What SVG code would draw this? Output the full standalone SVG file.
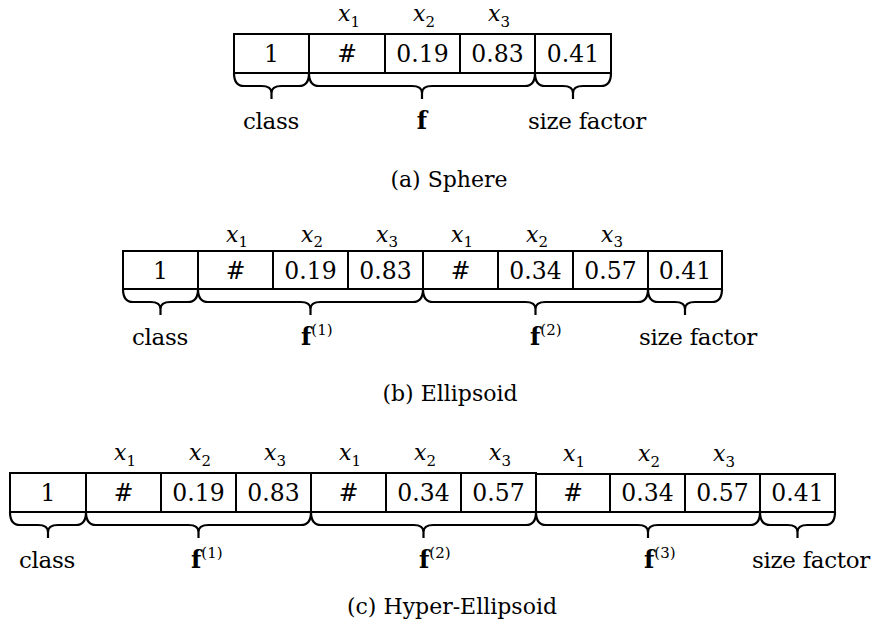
<svg xmlns="http://www.w3.org/2000/svg" width="874" height="626" viewBox="0 0 874 626">
<style>
  text { font-family: 'DejaVu Serif', 'Liberation Serif', serif; fill: #000; }
  .cell { fill: #fff; stroke: #000; stroke-width: 2; }
  .num { font-size: 23.5px; text-anchor: middle; }
  .xl { font-size: 22px; font-style: italic; text-anchor: middle; }
  .sub { font-size: 15px; font-style: normal; }
  .lab { font-size: 23px; text-anchor: middle; letter-spacing: -0.3px; }
  .fl { font-size: 24px; font-weight: bold; }
  .sup { font-size: 15px; font-weight: normal; }
  .cap { font-size: 22px; text-anchor: middle; }
  .brace { fill: none; stroke: #000; stroke-width: 2.2; stroke-linejoin: round; }
</style>
<rect width="874" height="626" fill="#fff"/>

<g id="panel-a">
  <g id="a-cells">
    <rect class="cell" x="234" y="34" width="75" height="39"/>
    <rect class="cell" x="309" y="34" width="76" height="39"/>
    <rect class="cell" x="385" y="34" width="75" height="39"/>
    <rect class="cell" x="460" y="34" width="75" height="39"/>
    <rect class="cell" x="535" y="34" width="76" height="39"/>
    <text class="num" x="271.5" y="62">1</text>
    <text class="num" x="347" y="62">#</text>
    <text class="num" x="422.5" y="62">0.19</text>
    <text class="num" x="497.5" y="62">0.83</text>
    <text class="num" x="573" y="62">0.41</text>
  </g>
  <g id="a-xlabels">
    <text class="xl" x="349" y="21">x<tspan class="sub" dy="6">1</tspan></text>
    <text class="xl" x="424" y="21">x<tspan class="sub" dy="6">2</tspan></text>
    <text class="xl" x="499" y="21">x<tspan class="sub" dy="6">3</tspan></text>
  </g>
  <g id="a-braces">
    <path class="brace" d="M234 73 Q234 86 244 86 H261.5 Q271.5 86 271.5 93 V99 M271.5 93 Q271.5 86 281.5 86 H299 Q309 86 309 73"/>
    <path class="brace" d="M309 73 Q309 86 319 86 H412 Q422 86 422 93 V99 M422 93 Q422 86 432 86 H525 Q535 86 535 73"/>
    <path class="brace" d="M535 73 Q535 86 545 86 H563 Q573 86 573 93 V99 M573 93 Q573 86 583 86 H601 Q611 86 611 73"/>
  </g>
  <text class="lab" x="271" y="129">class</text>
  <text class="fl" x="422" y="129" text-anchor="middle">f</text>
  <text class="lab" x="587" y="129">size factor</text>
  <text class="cap" x="449" y="187">(a) Sphere</text>
</g>

<g id="panel-b">
  <g id="b-cells">
    <rect class="cell" x="123" y="251" width="75" height="38"/>
    <rect class="cell" x="198" y="251" width="75" height="38"/>
    <rect class="cell" x="273" y="251" width="75" height="38"/>
    <rect class="cell" x="348" y="251" width="75" height="38"/>
    <rect class="cell" x="423" y="251" width="75" height="38"/>
    <rect class="cell" x="498" y="251" width="75" height="38"/>
    <rect class="cell" x="573" y="251" width="75" height="38"/>
    <rect class="cell" x="648" y="251" width="74" height="38"/>
    <text class="num" x="160.5" y="279">1</text>
    <text class="num" x="235.5" y="279">#</text>
    <text class="num" x="310.5" y="279">0.19</text>
    <text class="num" x="385.5" y="279">0.83</text>
    <text class="num" x="460.5" y="279">#</text>
    <text class="num" x="535.5" y="279">0.34</text>
    <text class="num" x="610.5" y="279">0.57</text>
    <text class="num" x="685" y="279">0.41</text>
  </g>
  <g id="b-xlabels">
    <text class="xl" x="237" y="242">x<tspan class="sub" dy="5">1</tspan></text>
    <text class="xl" x="312" y="242">x<tspan class="sub" dy="5">2</tspan></text>
    <text class="xl" x="387" y="242">x<tspan class="sub" dy="5">3</tspan></text>
    <text class="xl" x="462" y="242">x<tspan class="sub" dy="5">1</tspan></text>
    <text class="xl" x="537" y="242">x<tspan class="sub" dy="5">2</tspan></text>
    <text class="xl" x="612" y="242">x<tspan class="sub" dy="5">3</tspan></text>
  </g>
  <g id="b-braces">
    <path class="brace" d="M123 289 Q123 302 133 302 H150.5 Q160.5 302 160.5 309 V315 M160.5 309 Q160.5 302 170.5 302 H188 Q198 302 198 289"/>
    <path class="brace" d="M198 289 Q198 302 208 302 H300.5 Q310.5 302 310.5 309 V315 M310.5 309 Q310.5 302 320.5 302 H413 Q423 302 423 289"/>
    <path class="brace" d="M423 289 Q423 302 433 302 H525.5 Q535.5 302 535.5 309 V315 M535.5 309 Q535.5 302 545.5 302 H638 Q648 302 648 289"/>
    <path class="brace" d="M648 289 Q648 302 658 302 H675 Q685 302 685 309 V315 M685 309 Q685 302 695 302 H712 Q722 302 722 289"/>
  </g>
  <text class="lab" x="160" y="345">class</text>
  <text class="fl" x="301" y="345">f<tspan class="sup" dy="-10">(1)</tspan></text>
  <text class="fl" x="530" y="345">f<tspan class="sup" dy="-10">(2)</tspan></text>
  <text class="lab" x="698" y="345">size factor</text>
  <text class="cap" x="450" y="401">(b) Ellipsoid</text>
</g>

<g id="panel-c">
  <g id="c-cells">
    <rect class="cell" x="10" y="473" width="76" height="39"/>
    <rect class="cell" x="86" y="473" width="75" height="39"/>
    <rect class="cell" x="161" y="473" width="75" height="39"/>
    <rect class="cell" x="236" y="473" width="75" height="39"/>
    <rect class="cell" x="311" y="473" width="75" height="39"/>
    <rect class="cell" x="386" y="473" width="75" height="39"/>
    <rect class="cell" x="461" y="473" width="75" height="39"/>
    <rect class="cell" x="536" y="474" width="74" height="38"/>
    <rect class="cell" x="610" y="474" width="75" height="38"/>
    <rect class="cell" x="685" y="474" width="75" height="38"/>
    <rect class="cell" x="760" y="474" width="75" height="38"/>
    <text class="num" x="48" y="501">1</text>
    <text class="num" x="123.5" y="501">#</text>
    <text class="num" x="198.5" y="501">0.19</text>
    <text class="num" x="273.5" y="501">0.83</text>
    <text class="num" x="348.5" y="501">#</text>
    <text class="num" x="423.5" y="501">0.34</text>
    <text class="num" x="498.5" y="501">0.57</text>
    <text class="num" x="573" y="501">#</text>
    <text class="num" x="647.5" y="501">0.34</text>
    <text class="num" x="722.5" y="501">0.57</text>
    <text class="num" x="797.5" y="501">0.41</text>
  </g>
  <g id="c-xlabels">
    <text class="xl" x="125" y="460">x<tspan class="sub" dy="6">1</tspan></text>
    <text class="xl" x="200" y="460">x<tspan class="sub" dy="6">2</tspan></text>
    <text class="xl" x="275" y="460">x<tspan class="sub" dy="6">3</tspan></text>
    <text class="xl" x="350" y="460">x<tspan class="sub" dy="6">1</tspan></text>
    <text class="xl" x="425" y="460">x<tspan class="sub" dy="6">2</tspan></text>
    <text class="xl" x="500" y="460">x<tspan class="sub" dy="6">3</tspan></text>
    <text class="xl" x="574" y="461">x<tspan class="sub" dy="6">1</tspan></text>
    <text class="xl" x="649" y="461">x<tspan class="sub" dy="6">2</tspan></text>
    <text class="xl" x="724" y="461">x<tspan class="sub" dy="6">3</tspan></text>
  </g>
  <g id="c-braces">
    <path class="brace" d="M10 512 Q10 525 20 525 H38 Q48 525 48 532 V538 M48 532 Q48 525 58 525 H76 Q86 525 86 512"/>
    <path class="brace" d="M86 512 Q86 525 96 525 H188.5 Q198.5 525 198.5 532 V538 M198.5 532 Q198.5 525 208.5 525 H301 Q311 525 311 512"/>
    <path class="brace" d="M311 512 Q311 525 321 525 H413.5 Q423.5 525 423.5 532 V538 M423.5 532 Q423.5 525 433.5 525 H526 Q536 525 536 512"/>
    <path class="brace" d="M536 512 Q536 525 546 525 H638 Q648 525 648 532 V538 M648 532 Q648 525 658 525 H750 Q760 525 760 512"/>
    <path class="brace" d="M760 512 Q760 525 770 525 H787.5 Q797.5 525 797.5 532 V538 M797.5 532 Q797.5 525 807.5 525 H825 Q835 525 835 512"/>
  </g>
  <text class="lab" x="47" y="568">class</text>
  <text class="fl" x="191" y="568">f<tspan class="sup" dy="-10">(1)</tspan></text>
  <text class="fl" x="419" y="568">f<tspan class="sup" dy="-10">(2)</tspan></text>
  <text class="fl" x="644" y="568">f<tspan class="sup" dy="-10">(3)</tspan></text>
  <text class="lab" x="811" y="568">size factor</text>
  <text class="cap" x="452" y="614">(c) Hyper-Ellipsoid</text>
</g>
</svg>
